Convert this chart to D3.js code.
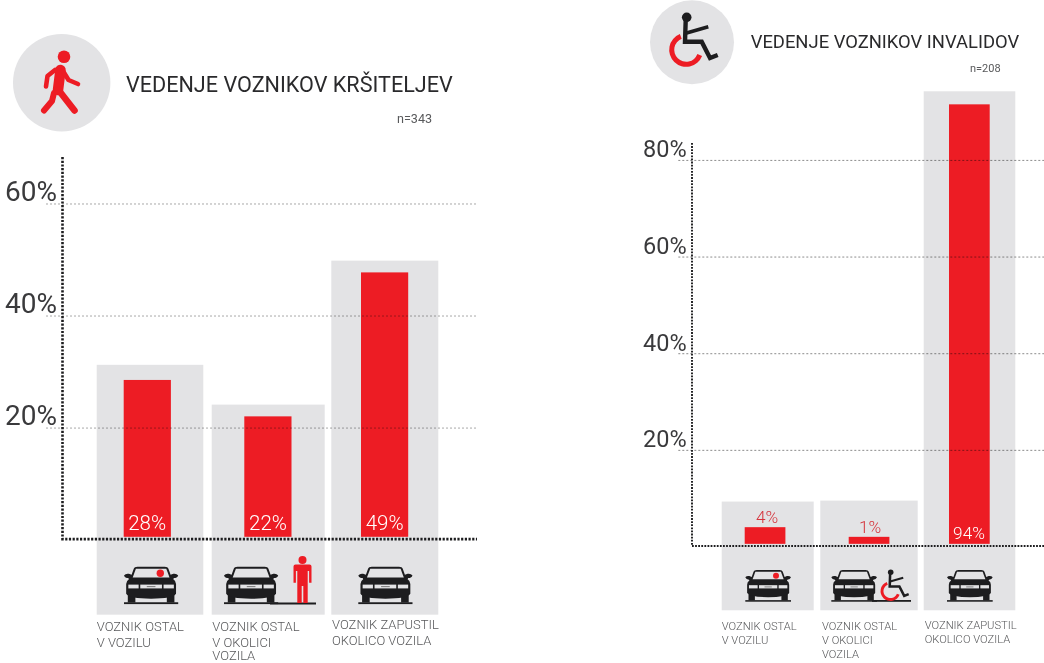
<!DOCTYPE html>
<html><head><meta charset="utf-8">
<style>
html,body{margin:0;padding:0;background:#fff;overflow:hidden}
svg{display:block}
text{font-family:Roboto,"Open Sans",sans-serif}
</style>
<script src="https://cdn.jsdelivr.net/npm/d3@7/dist/d3.min.js"></script>
</head><body>
<svg id="c" width="1044" height="663"></svg>
<script>
// ---- data ----
const categories = [
  ["VOZNIK OSTAL","V VOZILU"],
  ["VOZNIK OSTAL","V OKOLICI","VOZILA"],
  ["VOZNIK ZAPUSTIL","OKOLICO VOZILA"]
];
const pedTitle = "VEDENJE VOZNIKOV KRŠITELJEV";
const pedN = "n=343";
const pedLabels = ["28%","22%","49%"];
const pedBars = [28.5,22,47.7];      // bar heights as read against the axis
const pedPanels = [31.2,24.1,49.8];  // grey backing panels, read against the axis
const pedTicks = [20,40,60];

const disTitle = "VEDENJE VOZNIKOV INVALIDOV";
const disN = "n=208";
const disLabels = ["4%","1%","94%"];
const disBars = [4,2,91.5];
const disPanels = [9.3,9.5,94.2];
const disTicks = [20,40,60,80];

// ---- layout (separate from the data) ----
const pedLayout = {
  yRange:[539.6,157], yMax:68.3, axisX:62.5, axisEnd:477, gridStart:46, floor:-13.4, barFloor:.5,
  panelX:[96.7,211.7,331.3], panelW:[106.6,113,107], barX:[123.7,244.3,361], barW:47.2,
  axisW:2.6, axisDash:"2.2 1.5", gridCol:"#a8a8a8",
  tickFont:28, tickEnd:57, tickDy:-3.3, tickCol:"#3a3a3c",
  valFont:20.5, valCol:["#fff","#fff","#fff"], valBase:[530,530,530],
  valX:[147.2,268,384.7],
  title:{x:126,y:91.5,size:21.6}, n:{x:397,y:123,size:12.6},
  catFont:13, catX:[96.7,212.3,332], catBase:[[630.7,646.7],[630.7,646.7,660],[629.3,645]],
  carX:[124,224,358.3], carY:566.7, carW:54.2, carH:38,
  circle:[61.7,82.7,48.7]
};
const disLayout = {
  yRange:[546.5,143], yMax:83.5, axisX:692, axisEnd:1044, gridStart:678.3, floor:-13.2, barFloor:.55,
  panelX:[721.7,820.3,923.7], panelW:[92,97.4,91.6], barX:[744.7,848.7,949], barW:40.7,
  axisW:1.9, axisDash:"1.8 1.3", gridCol:"#8c8c8c",
  tickFont:23.5, tickEnd:686.7, tickDy:-3, tickCol:"#3a3a3c",
  valFont:17.2, valCol:["#d5343c","#d5343c","#fff"], valBase:[522.7,532.7,538.7],
  valX:[767,870,969],
  title:{x:750.7,y:47.7,size:18.4}, n:{x:970,y:71.7,size:11},
  catFont:11.2, catX:[721.7,822,924.7], catBase:[[630,644.3],[630,644.3,657.7],[629,643.3]],
  carX:[745.3,831.3,947], carY:570, carW:45.7, carH:32.2,
  circle:[692,42.3,42]
};

const RED="#ed1c24", PANEL="#e3e3e5", DARK="#1d1d1f";
const svg=d3.select("#c");

function car(g,x,y,w,h){
  const c=g.append("g").attr("transform",`translate(${x},${y}) scale(${w/100},${h/70})`);
  c.append("rect").attr("x",0).attr("y",65.5).attr("width",100).attr("height",3.4).attr("fill",DARK);
  [[7,14],[79,14]].forEach(([a,b])=>c.append("rect").attr("x",a).attr("y",52).attr("width",b).attr("height",14).attr("fill",DARK));
  c.append("path").attr("fill",DARK).attr("d","M0,16 Q3,12 9,13 L14,15 L18,4 Q19,0 25,0 L75,0 Q81,0 82,4 L86,15 L91,13 Q97,12 100,16 Q98,21 92,21 L91,23 Q96,26 96,32 L96,50 Q90,59 50,59 Q10,59 4,50 L4,32 Q4,26 9,23 L8,21 Q2,21 0,16 Z");
  c.append("path").attr("fill",PANEL).attr("d","M22,4 L78,4 L84,20 L16,20 Z");
  c.append("rect").attr("x",8).attr("y",33).attr("width",19).attr("height",7).attr("fill",PANEL);
  c.append("rect").attr("x",30).attr("y",33).attr("width",40).attr("height",7).attr("fill",PANEL);
  c.append("rect").attr("x",73).attr("y",33).attr("width",19).attr("height",7).attr("fill",PANEL);
  c.append("rect").attr("x",42).attr("y",36).attr("width",16).attr("height",1.6).attr("fill","#666");
}
function walker(g){
  const line=d3.line();
  const w=g.append("g").attr("fill","none").attr("stroke",RED).attr("stroke-linecap","round").attr("stroke-linejoin","round");
  g.append("circle").attr("cx",64).attr("cy",56.7).attr("r",6.3).attr("fill",RED);
  [[[[60.5,70],[58,90]],10.5],
   [[[55,70],[47.5,76],[46,86.5]],4.6],
   [[[63,71],[68.5,80],[78,84]],4.6],
   [[[58.5,90],[74.5,110.5]],6.6],
   [[[54,93],[52,101],[44,110.5]],6]
  ].forEach(([p,sw])=>w.append("path").attr("d",line(p)).attr("stroke-width",sw));
}
function wheelchair(g,tx,ty,k){
  const h=g.append("g").attr("transform",`translate(${tx},${ty}) scale(${k})`);
  const a=-249*Math.PI/180, b=-22*Math.PI/180;
  h.append("path").attr("transform","translate(-.5,32.5)").attr("fill",RED)
    .attr("d",d3.arc().innerRadius(12).outerRadius(17).startAngle(a).endAngle(b)());
  h.append("circle").attr("r",4.8).attr("fill",DARK);
  const s=h.append("g").attr("fill","none").attr("stroke",DARK).attr("stroke-linejoin","miter");
  s.append("path").attr("stroke-width",4.4).attr("d",d3.line()([[-1,3],[-1.7,24.4],[15,24.4],[23.3,40.7],[31,37.7]]));
  s.append("path").attr("stroke-width",3.6).attr("d",d3.line()([[-1,16],[21.6,9.4]]));
}
function person(g,cx){
  g.append("circle").attr("cx",cx).attr("cy",560).attr("r",4).attr("fill",RED);
  g.append("path").attr("fill",RED).attr("transform",`translate(${cx},0)`)
    .attr("d","M-9,566.5 Q-9,564.5 -7,564.5 L7,564.5 Q9,564.5 9,566.5 L9,582.7 L6.6,582.7 L6.6,571 L5.2,571 L5.2,603 L.8,603 L.8,586 L-.8,586 L-.8,603 L-5.2,603 L-5.2,571 L-6.6,571 L-6.6,582.7 L-9,582.7 Z");
}

function drawChart(L,title,n,labels,bars,panels,ticks,kind){
  const g=svg.append("g");
  const idx=categories.map((_,i)=>i);
  const y=d3.scaleLinear().domain([0,L.yMax]).range(L.yRange);
  const px=d3.scaleOrdinal(idx,L.panelX), pw=d3.scaleOrdinal(idx,L.panelW);
  const bx=d3.scaleOrdinal(idx,L.barX);

  g.append("circle").attr("cx",L.circle[0]).attr("cy",L.circle[1]).attr("r",L.circle[2]).attr("fill",PANEL);
  g.append("text").attr("x",L.title.x).attr("y",L.title.y).attr("font-size",L.title.size).attr("fill","#2a2a2c").text(title);
  g.append("text").attr("x",L.n.x).attr("y",L.n.y).attr("font-size",L.n.size).attr("fill","#58595b").text(n);

  g.selectAll("rect.panel").data(panels).join("rect").attr("class","panel")
    .attr("x",(d,i)=>px(i)).attr("width",(d,i)=>pw(i))
    .attr("y",d=>y(d)).attr("height",d=>y(L.floor)-y(d)).attr("fill",PANEL);
  g.selectAll("rect.bar").data(bars).join("rect").attr("class","bar")
    .attr("x",(d,i)=>bx(i)).attr("width",L.barW)
    .attr("y",d=>y(d)).attr("height",d=>y(L.barFloor)-y(d)).attr("fill",RED);

  // y axis: ticks become the dashed gridlines
  const ax=g.append("g").attr("transform",`translate(${L.axisX},0)`)
    .call(d3.axisLeft(y).tickValues(ticks).tickFormat(d=>d+"%"));
  ax.select(".domain").remove();
  ax.selectAll(".tick line").attr("x1",L.gridStart-L.axisX).attr("x2",L.axisEnd-L.axisX)
    .attr("stroke",L.gridCol).attr("stroke-width",1).attr("stroke-dasharray","2 2")
    .style("mix-blend-mode","multiply");
  ax.selectAll(".tick text").attr("x",L.tickEnd-L.axisX).attr("dy",null).attr("y",L.tickDy)
    .attr("font-size",L.tickFont).attr("font-family","Roboto").attr("fill",L.tickCol).attr("text-anchor","end");

  g.append("path").attr("fill","none").attr("stroke",DARK).attr("stroke-width",L.axisW).attr("stroke-dasharray",L.axisDash)
    .attr("d",d3.line()([[L.axisX,y(L.yMax)],[L.axisX,L.yRange[0]-.5],[L.axisEnd,L.yRange[0]-.5]]));

  g.selectAll("text.val").data(labels).join("text").attr("class","val")
    .attr("x",(d,i)=>L.valX[i]).attr("y",(d,i)=>L.valBase[i]).attr("text-anchor","middle")
    .attr("font-size",L.valFont).attr("font-weight",300).attr("fill",(d,i)=>L.valCol[i]).text(d=>d);

  categories.forEach((lines,i)=>{
    lines.forEach((t,j)=>g.append("text").attr("x",L.catX[i]).attr("y",L.catBase[i][j])
      .attr("font-size",L.catFont).attr("font-weight",300).attr("fill","#58595b").text(t));
    car(g,L.carX[i],L.carY,L.carW,L.carH);
  });
  if(kind==="ped"){
    walker(g);
    g.append("circle").attr("cx",160.3).attr("cy",573.3).attr("r",3.7).attr("fill",RED);
    g.append("rect").attr("x",270).attr("y",602.5).attr("width",46).attr("height",2).attr("fill",DARK);
    person(g,302.5);
  } else {
    wheelchair(g,686.7,17.3,1);
    g.append("circle").attr("cx",776).attr("cy",575.7).attr("r",3).attr("fill",RED);
    g.append("rect").attr("x",872).attr("y",600).attr("width",39).attr("height",1.8).attr("fill",DARK);
    wheelchair(g,890.7,572.3,.58);
  }
}
drawChart(pedLayout,pedTitle,pedN,pedLabels,pedBars,pedPanels,pedTicks,"ped");
drawChart(disLayout,disTitle,disN,disLabels,disBars,disPanels,disTicks,"dis");
</script>
</body></html>
